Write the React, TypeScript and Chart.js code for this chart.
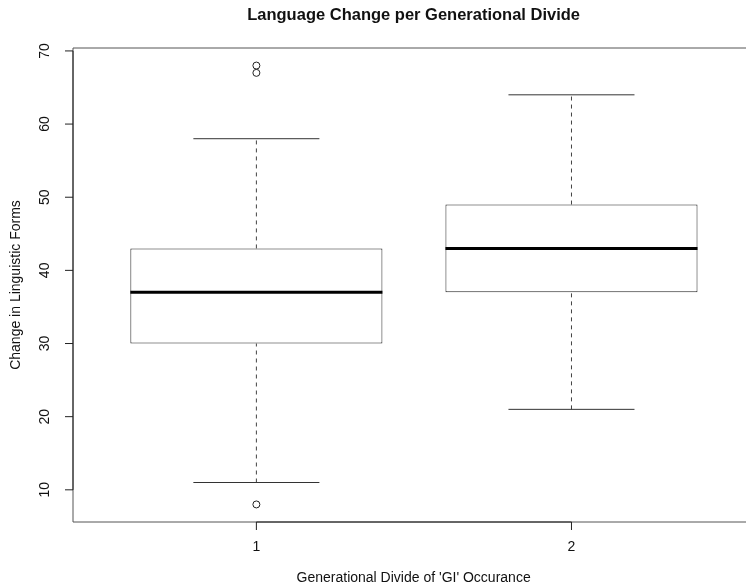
import React, { useEffect, useRef } from "react";
import { Chart, registerables } from "chart.js";

Chart.register(...registerables);

// ---- data ----
const groups = [1, 2];
const xTickLabels = ["1", "2"];
const whiskerLow = [11, 21];
const q1 = [30, 37];
const medians = [37, 43];
const q3 = [43, 49];
const whiskerHigh = [58, 64];
const outlierGroup = [1, 1, 1];
const outlierValues = [67, 68, 8];
const yTicks = [10, 20, 30, 40, 50, 60, 70];

const TITLE = "Language Change per Generational Divide";
const X_TITLE = "Generational Divide of 'GI' Occurance";
const Y_TITLE = "Change in Linguistic Forms";

// ---- geometry / style constants ----
const BOX_HALF = 0.4;
const CAP_HALF = 0.2;
const FONT = "'Liberation Sans', Arial, Helvetica, sans-serif";
const LINE = "#222";

const rAxesPlugin = {
  id: "rAxes",
  afterDraw(chart: any) {
    const { ctx, chartArea, scales } = chart;
    const xs = scales.x;
    const ys = scales.y;
    const { left, top, bottom } = chartArea;
    const W = chart.width;
    ctx.save();
    // frame
    ctx.strokeStyle = "#555";
    ctx.lineWidth = 1;
    ctx.beginPath();
    ctx.moveTo(W + 10, top);
    ctx.lineTo(left, top);
    ctx.lineTo(left, bottom);
    ctx.lineTo(W + 10, bottom);
    ctx.stroke();

    ctx.strokeStyle = LINE;
    // y axis line + ticks
    const y0 = ys.getPixelForValue(yTicks[0]);
    const y1 = ys.getPixelForValue(yTicks[yTicks.length - 1]);
    ctx.beginPath();
    ctx.moveTo(left, y0);
    ctx.lineTo(left, y1);
    yTicks.forEach((t) => {
      const py = ys.getPixelForValue(t);
      ctx.moveTo(left, py);
      ctx.lineTo(left - 8, py);
    });
    ctx.stroke();

    // x axis line + ticks
    const x0 = xs.getPixelForValue(groups[0]);
    const x1 = xs.getPixelForValue(groups[groups.length - 1]);
    ctx.beginPath();
    ctx.moveTo(x0, bottom);
    ctx.lineTo(x1, bottom);
    groups.forEach((g) => {
      const px = xs.getPixelForValue(g);
      ctx.moveTo(px, bottom);
      ctx.lineTo(px, bottom + 8);
    });
    ctx.stroke();

    ctx.fillStyle = "#111";
    ctx.font = `14px ${FONT}`;
    ctx.textAlign = "center";
    ctx.textBaseline = "middle";
    // y tick labels (rotated)
    yTicks.forEach((t) => {
      const py = ys.getPixelForValue(t);
      ctx.save();
      ctx.translate(left - 28, py);
      ctx.rotate(-Math.PI / 2);
      ctx.fillText(String(t), 0, 0);
      ctx.restore();
    });
    // x tick labels
    groups.forEach((g, i) => {
      ctx.fillText(xTickLabels[i], xs.getPixelForValue(g), bottom + 25);
    });

    const centerX = (left + xs.getPixelForValue(2.58)) / 2;
    // x title
    ctx.fillText(X_TITLE, centerX, 578);
    // y title
    ctx.save();
    ctx.translate(16, (top + bottom) / 2);
    ctx.rotate(-Math.PI / 2);
    ctx.fillText(Y_TITLE, 0, 0);
    ctx.restore();
    // main title
    ctx.font = `bold 16.5px ${FONT}`;
    ctx.fillText(TITLE, centerX, 15);
    ctx.restore();
  },
};

export default function App() {
  const ref = useRef<HTMLCanvasElement | null>(null);

  useEffect(() => {
    if (!ref.current) return;
    const datasets: any[] = [];

    datasets.push({
      type: "bar",
      data: groups.map((g, i) => ({ x: g, y: [q1[i], q3[i]] })),
      backgroundColor: "#ffffff",
      borderColor: LINE,
      borderWidth: 1,
      borderSkipped: false,
      barPercentage: 1,
      categoryPercentage: BOX_HALF * 2,
      order: 5,
    });

    groups.forEach((g, i) => {
      // dashed whiskers
      datasets.push({
        type: "line",
        data: [
          { x: g, y: q3[i] },
          { x: g, y: whiskerHigh[i] },
        ],
        borderColor: "#444",
        borderWidth: 1,
        borderDash: [4, 4],
        pointRadius: 0,
        order: 4,
      });
      datasets.push({
        type: "line",
        data: [
          { x: g, y: whiskerLow[i] },
          { x: g, y: q1[i] },
        ],
        borderColor: "#444",
        borderWidth: 1,
        borderDash: [4, 4],
        pointRadius: 0,
        order: 4,
      });
      // caps
      [whiskerHigh[i], whiskerLow[i]].forEach((v) => {
        datasets.push({
          type: "line",
          data: [
            { x: g - CAP_HALF, y: v },
            { x: g + CAP_HALF, y: v },
          ],
          borderColor: "#333",
          borderWidth: 1,
          pointRadius: 0,
          order: 3,
        });
      });
      // median
      datasets.push({
        type: "line",
        data: [
          { x: g - BOX_HALF, y: medians[i] },
          { x: g + BOX_HALF, y: medians[i] },
        ],
        borderColor: "#000",
        borderWidth: 3,
        pointRadius: 0,
        order: 2,
      });
    });

    datasets.push({
      type: "line",
      data: outlierGroup.map((g, i) => ({ x: g, y: outlierValues[i] })),
      showLine: false,
      pointRadius: 3.5,
      pointBackgroundColor: "rgba(255,255,255,0)",
      pointBorderColor: LINE,
      pointBorderWidth: 1,
      order: 1,
    });

    const chart = new Chart(ref.current, {
      type: "bar",
      data: { datasets },
      options: {
        responsive: false,
        animation: false,
        layout: { padding: { left: 73, top: 48, right: 5, bottom: 66 } },
        scales: {
          x: {
            type: "linear",
            min: 0.418,
            max: 2.538,
            offset: false,
            display: false,
            afterBuildTicks: (scale: any) => {
              scale.ticks = groups.map((g) => ({ value: g }));
            },
          },
          y: { type: "linear", min: 5.6, max: 70.4, display: false },
        },
        plugins: {
          legend: { display: false },
          tooltip: { enabled: false },
          title: { display: false },
        },
      },
      plugins: [rAxesPlugin],
    } as any);
    return () => chart.destroy();
  }, []);

  return (
    <div style={{ position: "fixed", left: 0, top: 0, width: 746, height: 588, background: "#fff" }}>
      <canvas ref={ref} width={746} height={588} style={{ display: "block" }} />
    </div>
  );
}
